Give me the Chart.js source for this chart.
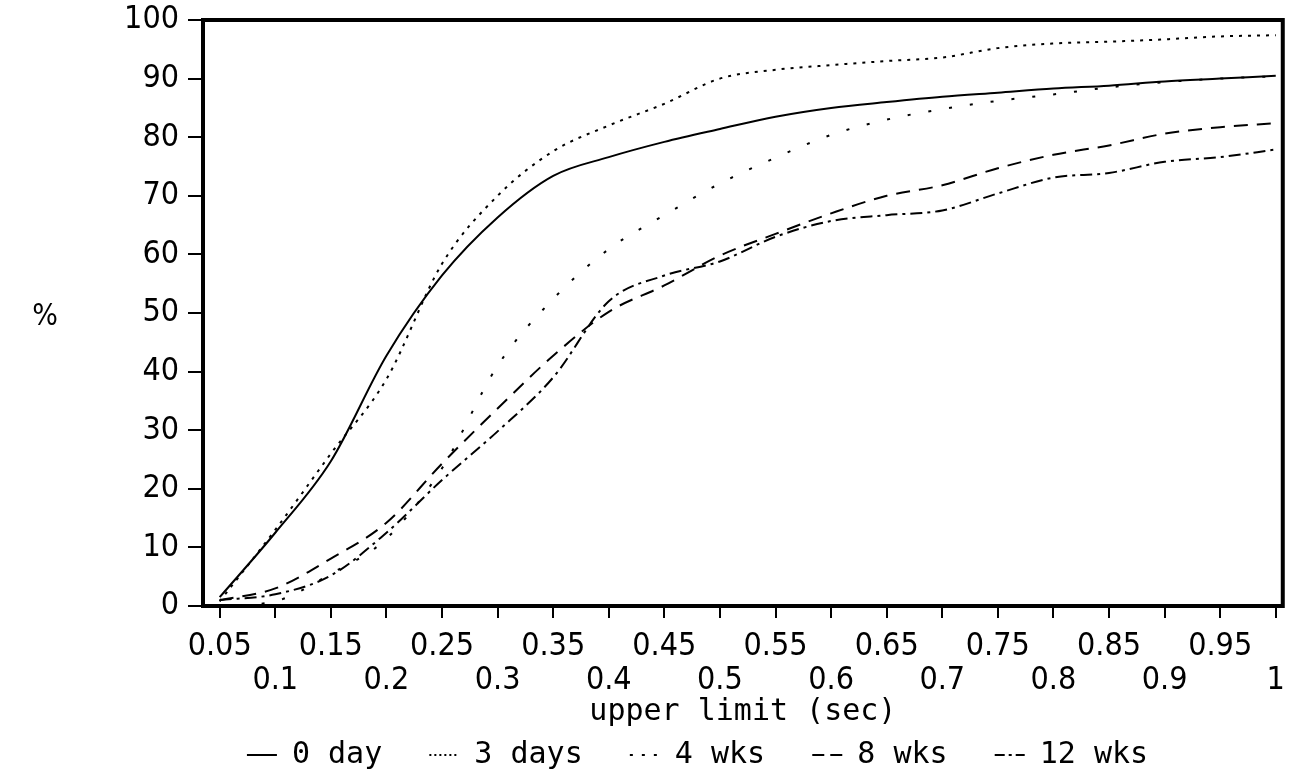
<!DOCTYPE html>
<html>
<head>
<meta charset="utf-8">
<script src="https://cdn.jsdelivr.net/npm/chart.js@4"></script>
<style>
  html, body { margin: 0; padding: 0; background: #fff; }
  #wrap { width: 1297px; height: 781px; }
</style>
</head>
<body>
<div id="wrap"><canvas id="limitChart" width="1297" height="781"></canvas></div>
<script>
const xValues = [0.05, 0.1, 0.15, 0.2, 0.25, 0.3, 0.35, 0.4, 0.45, 0.5, 0.55, 0.6, 0.65, 0.7, 0.75, 0.8, 0.85, 0.9, 0.95, 1];
const xTickLabels = ["0.05", "0.1", "0.15", "0.2", "0.25", "0.3", "0.35", "0.4", "0.45", "0.5", "0.55", "0.6", "0.65", "0.7", "0.75", "0.8", "0.85", "0.9", "0.95", "1"];
const yTicks = [0, 10, 20, 30, 40, 50, 60, 70, 80, 90, 100];

const seriesNames = ["0 day", "3 days", "4 wks", "8 wks", "12 wks"];
const day0 = [1.5, 12.5, 24.7, 42.7, 56.4, 66.3, 73.4, 76.6, 79.2, 81.4, 83.5, 85, 86, 86.9, 87.6, 88.3, 88.8, 89.5, 90, 90.5];
const days3 = [0.8, 13, 26, 38.7, 58.4, 70, 77.6, 82, 85.7, 90, 91.5, 92.3, 93, 93.6, 95.2, 96, 96.3, 96.7, 97.2, 97.4];
const wks4 = [0, 0.8, 5.5, 11.5, 23.5, 41, 52.4, 60.9, 66.7, 72.1, 76.5, 80.4, 83, 84.8, 86.2, 87.3, 88.5, 89.4, 90, 90.4];
const wks8 = [1, 3, 8.1, 14.2, 24.3, 33.7, 42.7, 50.2, 54.7, 59.8, 63.5, 67, 70, 71.8, 74.7, 77, 78.6, 80.6, 81.7, 82.4];
const wks12 = [1, 2, 5.2, 12.5, 21.5, 29.8, 39, 52, 56.4, 58.8, 63, 65.7, 66.7, 67.5, 70.4, 73.1, 73.9, 75.8, 76.6, 77.9];

const tickFont = "'Liberation Sans Narrow', 'DejaVu Sans Condensed', 'DejaVu Sans Mono', sans-serif";
const textFont = "'DejaVu Sans Mono', 'Liberation Mono', monospace";
const ink = "#000";

// line patterns: chart and the short legend samples
const chartDash = [[], [3, 6], [3, 18], [14, 9], [12, 5, 3, 5]];
const legendDash = [[], [2, 3], [3, 9], [12, 6], [10, 4, 3, 4]];

function points(values) {
  return xValues.map((x, i) => ({ x: x, y: values[i] }));
}

const frame = {
  id: "frame",
  afterDatasetsDraw(chart) {
    const a = chart.chartArea;
    const c = chart.ctx;
    c.save();
    c.strokeStyle = ink;
    c.lineWidth = 4;
    c.strokeRect(a.left, a.top, a.right - a.left, a.bottom - a.top);
    c.restore();
  },
};

const yLabel = {
  id: "yLabel",
  afterDraw(chart) {
    const a = chart.chartArea;
    const c = chart.ctx;
    c.save();
    c.fillStyle = ink;
    c.font = "30px " + tickFont;
    c.textAlign = "center";
    c.textBaseline = "middle";
    c.fillText("%", a.left - 158, (a.top + a.bottom) / 2 + 4);
    c.restore();
  },
};

const ctx = document.getElementById("limitChart").getContext("2d");
const limitChart = new Chart(ctx, {
  type: "line",
  data: {
    datasets: [day0, days3, wks4, wks8, wks12].map((vals, i) => ({
      label: seriesNames[i],
      data: points(vals),
      borderColor: ink,
      backgroundColor: ink,
      borderWidth: 2,
      borderDash: chartDash[i],
      pointRadius: 0,
      cubicInterpolationMode: "monotone",
      fill: false,
    })),
  },
  options: {
    responsive: false,
    animation: false,
    layout: { padding: { left: 110, right: 12, top: 20, bottom: 1 } },
    plugins: {
      tooltip: { enabled: false },
      legend: {
        position: "bottom",
        labels: {
          color: ink,
          font: { family: textFont, size: 30 },
          padding: 11,
          usePointStyle: true,
          pointStyle: "line",
          pointStyleWidth: 30,
          generateLabels(chart) {
            const items = Chart.defaults.plugins.legend.labels.generateLabels(chart);
            items.forEach((it, i) => {
              it.lineDash = legendDash[i];
              it.lineWidth = 2;
              it.pointStyle = "line";
              if (i < items.length - 1) it.text = it.text + "  ";
            });
            return items;
          },
        },
      },
    },
    scales: {
      x: {
        type: "linear",
        min: 0.035,
        max: 1.0063,
        afterBuildTicks(scale) {
          scale.ticks = xValues.map((v) => ({ value: v }));
        },
        grid: {
          drawOnChartArea: false,
          drawTicks: true,
          tickLength: 12,
          color: ink,
          lineWidth: 2,
        },
        border: { display: false },
        ticks: {
          autoSkip: false,
          maxRotation: 0,
          color: ink,
          padding: 12,
          font: { family: tickFont, size: 32, lineHeight: "34px" },
          callback(value, index) {
            const t = xTickLabels[index];
            return index % 2 === 0 ? t : ["", t];
          },
        },
        title: {
          display: true,
          text: "upper limit (sec)",
          color: ink,
          padding: { top: -15, bottom: 0 },
          font: { family: textFont, size: 30, lineHeight: "34px" },
        },
      },
      y: {
        min: 0,
        max: 100,
        afterBuildTicks(scale) {
          scale.ticks = yTicks.map((v) => ({ value: v }));
        },
        afterFit(scale) {
          scale.width = 93;
        },
        grid: {
          drawOnChartArea: false,
          drawTicks: true,
          tickLength: 15,
          color: ink,
          lineWidth: 2,
        },
        border: { display: false },
        ticks: {
          color: ink,
          padding: 9,
          font: { family: tickFont, size: 32, lineHeight: "20px" },
        },
      },
    },
  },
  plugins: [frame, yLabel],
});
</script>
</body>
</html>
